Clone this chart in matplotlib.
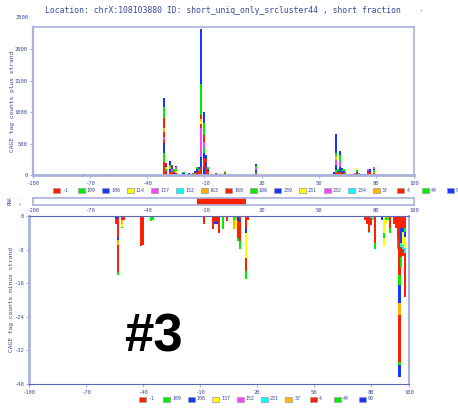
import matplotlib
matplotlib.use('Agg')
import matplotlib.pyplot as plt
from matplotlib.patches import Rectangle

# colour cycle used by the CAGE library legend
palette = ['#ff2200', '#00ee00', '#1438ff', '#ffff00', '#ff44ff', '#00ffff', '#ffb400']

title = 'Location: chrX:108103880 ID: short_uniq_only_srcluster44 , short fraction'

# plus strand: position, stacked (colour index, count) from the bottom up
plus_pos = [-73, -60, -31, -30, -28, -27, -26, -25, -21, -18, -17, -16, -15, -14, -13,
            -12, -10, -9, -8, -6, -4, -2, 1, 3, 17,
            58, 59, 60, 61, 62, 63, 64, 66, 67, 68, 69, 70, 71, 72, 73, 74, 75, 76, 77, 79]
plus_segs = [
    [(2, 15)], [(2, 8)],
    [(0, 212), (1, 133), (2, 159), (0, 53), (4, 54), (0, 79), (6, 53), (0, 160), (1, 185), (2, 133)],
    [(0, 60), (1, 40), (3, 30), (2, 30), (0, 26)],
    [(0, 50), (2, 40), (6, 30), (1, 40), (2, 60)],
    [(0, 40), (1, 30), (4, 30), (2, 30), (0, 30)],
    [(2, 30), (0, 30), (1, 30)],
    [(0, 30), (3, 30), (1, 30), (4, 30), (2, 28)],
    [(2, 25), (1, 28)], [(1, 15), (2, 10)], [(2, 12)], [(1, 20), (0, 10)],
    [(1, 30), (2, 30)],
    [(0, 40), (2, 50), (1, 42)],
    [(0, 60), (1, 40), (2, 30)],
    [(0, 132), (2, 159), (4, 452), (0, 70), (3, 40), (6, 40), (0, 62), (1, 494), (2, 876)],
    [(2, 132), (0, 134), (2, 79), (1, 80), (4, 105), (0, 107), (1, 186), (2, 185)],
    [(0, 120), (2, 80), (0, 60), (2, 58)],
    [(0, 60), (2, 40), (1, 30)],
    [(2, 15)], [(2, 20), (0, 10)], [(2, 15)],
    [(0, 25), (1, 20), (6, 24)], [(2, 15)],
    [(0, 30), (1, 25), (2, 30), (4, 25), (1, 30), (2, 35)],
    [(0, 20), (2, 20)],
    [(0, 27), (1, 53), (2, 79), (4, 80), (6, 63), (1, 43), (2, 303)],
    [(0, 40), (2, 30), (1, 30)],
    [(0, 53), (2, 79), (4, 80), (1, 106), (2, 64)],
    [(0, 40), (1, 30), (2, 40)],
    [(0, 30), (2, 30), (1, 30)],
    [(1, 30), (0, 20)],
    [(2, 12)], [(2, 12)], [(2, 12)],
    [(0, 20), (4, 10)],
    [(0, 30), (2, 25), (1, 25), (3, 26)],
    [(0, 20), (1, 10)],
    [(2, 12)], [(2, 12)], [(2, 12)], [(2, 12)],
    [(0, 40), (2, 30), (4, 26)],
    [(0, 50), (2, 50)],
    [(0, 30), (6, 25), (1, 25), (2, 20), (4, 22)],
]

# minus strand: position, stacked (colour index, count) from zero downward
minus_pos = [-54, -53, -51, -50, -41, -40, -36, -35, -8, -3, -2, -1, 0, 2, 4, 8, 9, 10, 11, 14, 15,
             77, 78, 79, 80, 81, 82, 86, 87, 88, 89, 90, 92, 93, 94, 95, 96, 97, 98]
minus_segs = [
    [(2, 0.8), (0, 1.1)],
    [(2, 0.5), (0, 4.4), (2, 0.8), (6, 1.2), (0, 6.4), (1, 0.7)],
    [(0, 1.0), (6, 1.0), (3, 0.5), (1, 0.4)],
    [(0, 1.0)],
    [(0, 7.1)], [(0, 7.0)],
    [(1, 1.1)], [(1, 1.0)],
    [(0, 2.0)],
    [(0, 3.1)],
    [(0, 1.5), (2, 0.3)],
    [(0, 1.2), (2, 0.6)],
    [(0, 4.1)],
    [(1, 3.1)],
    [(0, 1.1)],
    [(1, 1.0), (6, 2.1)],
    [(6, 1.0), (3, 2.1)],
    [(2, 1.2), (0, 4.0), (1, 0.8)],
    [(0, 1.0), (2, 0.5), (0, 4.5), (1, 1.9)],
    [(0, 2.9), (2, 1.2), (3, 6.0), (0, 3.0), (1, 1.9)],
    [(0, 1.0)],
    [(0, 1.0)], [(0, 1.8)],
    [(0, 3.8), (5, 0.3)],
    [(5, 0.5), (0, 1.7)],
    [(6, 0.5), (5, 0.5)],
    [(0, 6.5), (1, 1.4)],
    [(2, 1.0)],
    [(3, 4.0), (1, 1.2), (3, 1.9)],
    [(1, 1.0), (3, 0.8)],
    [(6, 0.5), (1, 0.5)],
    [(0, 2.8), (1, 1.3)],
    [(0, 2.0)],
    [(0, 2.9)],
    [(0, 5.5), (1, 2.4)],
    [(0, 14.0), (1, 2.5), (2, 4.2), (6, 2.9), (0, 11.1), (1, 0.8), (2, 2.8)],
    [(0, 2.9), (2, 3.5), (5, 1.0), (0, 2.4), (1, 2.3)],
    [(0, 2.9), (2, 1.0), (3, 3.0), (5, 1.0), (0, 1.7)],
    [(0, 2.9), (1, 0.8), (2, 1.2), (3, 2.8), (5, 1.2), (0, 10.3)],
]

top_legend = ['-1', '109', '106', '114', '137', '152', '163', '169', '196', '239',
              '231', '232', '234', '37', '4', '44', '9']
bottom_legend = ['-1', '109', '106', '137', '152', '231', '37', '4', '44', '90']

rna_start, rna_end = -14, 12

x_ticks = [-100, -70, -40, -10, 20, 50, 80, 100]
plus_ticks = [0, 500, 1000, 1500, 2000]
minus_ticks = [0, -8, -16, -24, -32, -40]

txt = '#3a4a9c'
light = '#a9b1dc'
dark = '#5a66b0'
mono = 'DejaVu Sans Mono'
W, H = 458, 412


def draw_stacks(ax, pos, segs, sign):
    for x, stack in zip(pos, segs):
        base = 0
        for ci, v in stack:
            ax.bar(x, sign * v, bottom=sign * base, width=1.1, color=palette[ci],
                   linewidth=0, antialiased=False)
            base += v


def style(ax, yticks, ylabels):
    ax.set_xlim(-100, 100)
    ax.set_xticks(x_ticks)
    ax.set_xticklabels([str(t) for t in x_ticks], fontsize=4, family=mono, color=txt)
    ax.set_yticks(yticks)
    ax.set_yticklabels(ylabels, fontsize=4, family=mono, color=txt)
    ax.tick_params(length=2, width=0.8, color=light, pad=2)


def box(l, t, r, b):
    return [l / W, 1 - b / H, (r - l) / W, (b - t) / H]


fig = plt.figure(figsize=(W / 100, H / 100), dpi=100)

# plus strand
ax1 = fig.add_axes(box(33, 27, 414, 175))
draw_stacks(ax1, plus_pos, plus_segs, 1)
ax1.set_ylim(0, 2357)
style(ax1, plus_ticks, [str(t) for t in plus_ticks])
for s in ax1.spines.values():
    s.set_color(light)
    s.set_linewidth(1.2)
ax1.spines['bottom'].set_linewidth(2)
ax1.spines['left'].set_linewidth(1.6)
ax1.set_ylabel('CAGE tag counts plus strand', fontsize=4.5, family=mono, color=txt)
ax1.yaxis.set_label_coords(-0.048, 0.5)

# RNA strip
ax2 = fig.add_axes(box(33, 198, 414, 205))
ax2.axvspan(rna_start, rna_end, color='#ff2200', lw=0)
ax2.set_ylim(0, 1)
style(ax2, [], [])
ax2.tick_params(length=0, pad=2)
for s in ax2.spines.values():
    s.set_color(light)
    s.set_linewidth(1.2)

# minus strand
ax3 = fig.add_axes(box(29, 216, 409, 384))
draw_stacks(ax3, minus_pos, minus_segs, -1)
ax3.set_ylim(-40, 0)
style(ax3, minus_ticks, [str(t) for t in minus_ticks])
ax3.spines['top'].set_color(dark)
ax3.spines['bottom'].set_color(dark)
ax3.spines['left'].set_color(light)
ax3.spines['right'].set_color(light)
ax3.spines['left'].set_linewidth(2)
ax3.spines['right'].set_linewidth(1.5)
ax3.set_ylabel('CAGE tag counts minus strand', fontsize=4.5, family=mono, color=txt)
ax3.yaxis.set_label_coords(-0.04, 0.5)

# overlay in pixel coordinates for title, legends and labels
ov = fig.add_axes([0, 0, 1, 1])
ov.set_xlim(0, W)
ov.set_ylim(H, 0)
ov.axis('off')
ov.patch.set_alpha(0)

ov.text(223, 10, title, fontsize=5.9, family=mono, color=txt, ha='center', va='center')
ov.text(29, 17, '2500', fontsize=4, family=mono, color=txt, ha='right', va='center')
ov.text(420, 8, '.', fontsize=6, color='black', ha='center', va='center')
ov.text(10, 201, 'RNA', fontsize=3.5, family=mono, color=txt, rotation=90, ha='center', va='center')
ov.text(21, 201, '+ -', fontsize=3, family=mono, color=txt, rotation=90, ha='center', va='center')

for i, lab in enumerate(top_legend):
    x0 = 53 + i * 24.6
    ov.add_patch(Rectangle((x0, 188), 7, 5, facecolor=palette[i % 7], edgecolor='#999999', lw=0.5))
    ov.text(x0 + 9, 190.5, lab, fontsize=3.6, family=mono, color=txt, va='center')

for i, lab in enumerate(bottom_legend):
    x0 = 139 + i * 24.4
    ov.add_patch(Rectangle((x0, 396.5), 7, 5, facecolor=palette[i % 7], edgecolor='#999999', lw=0.5))
    ov.text(x0 + 9, 399, lab, fontsize=3.6, family=mono, color=txt, va='center')

ov.text(153, 338, '#3', fontsize=38, weight='bold', color='black',
        family=['Liberation Sans', 'DejaVu Sans'], ha='center', va='center')

fig.savefig('out.png', dpi=100)
